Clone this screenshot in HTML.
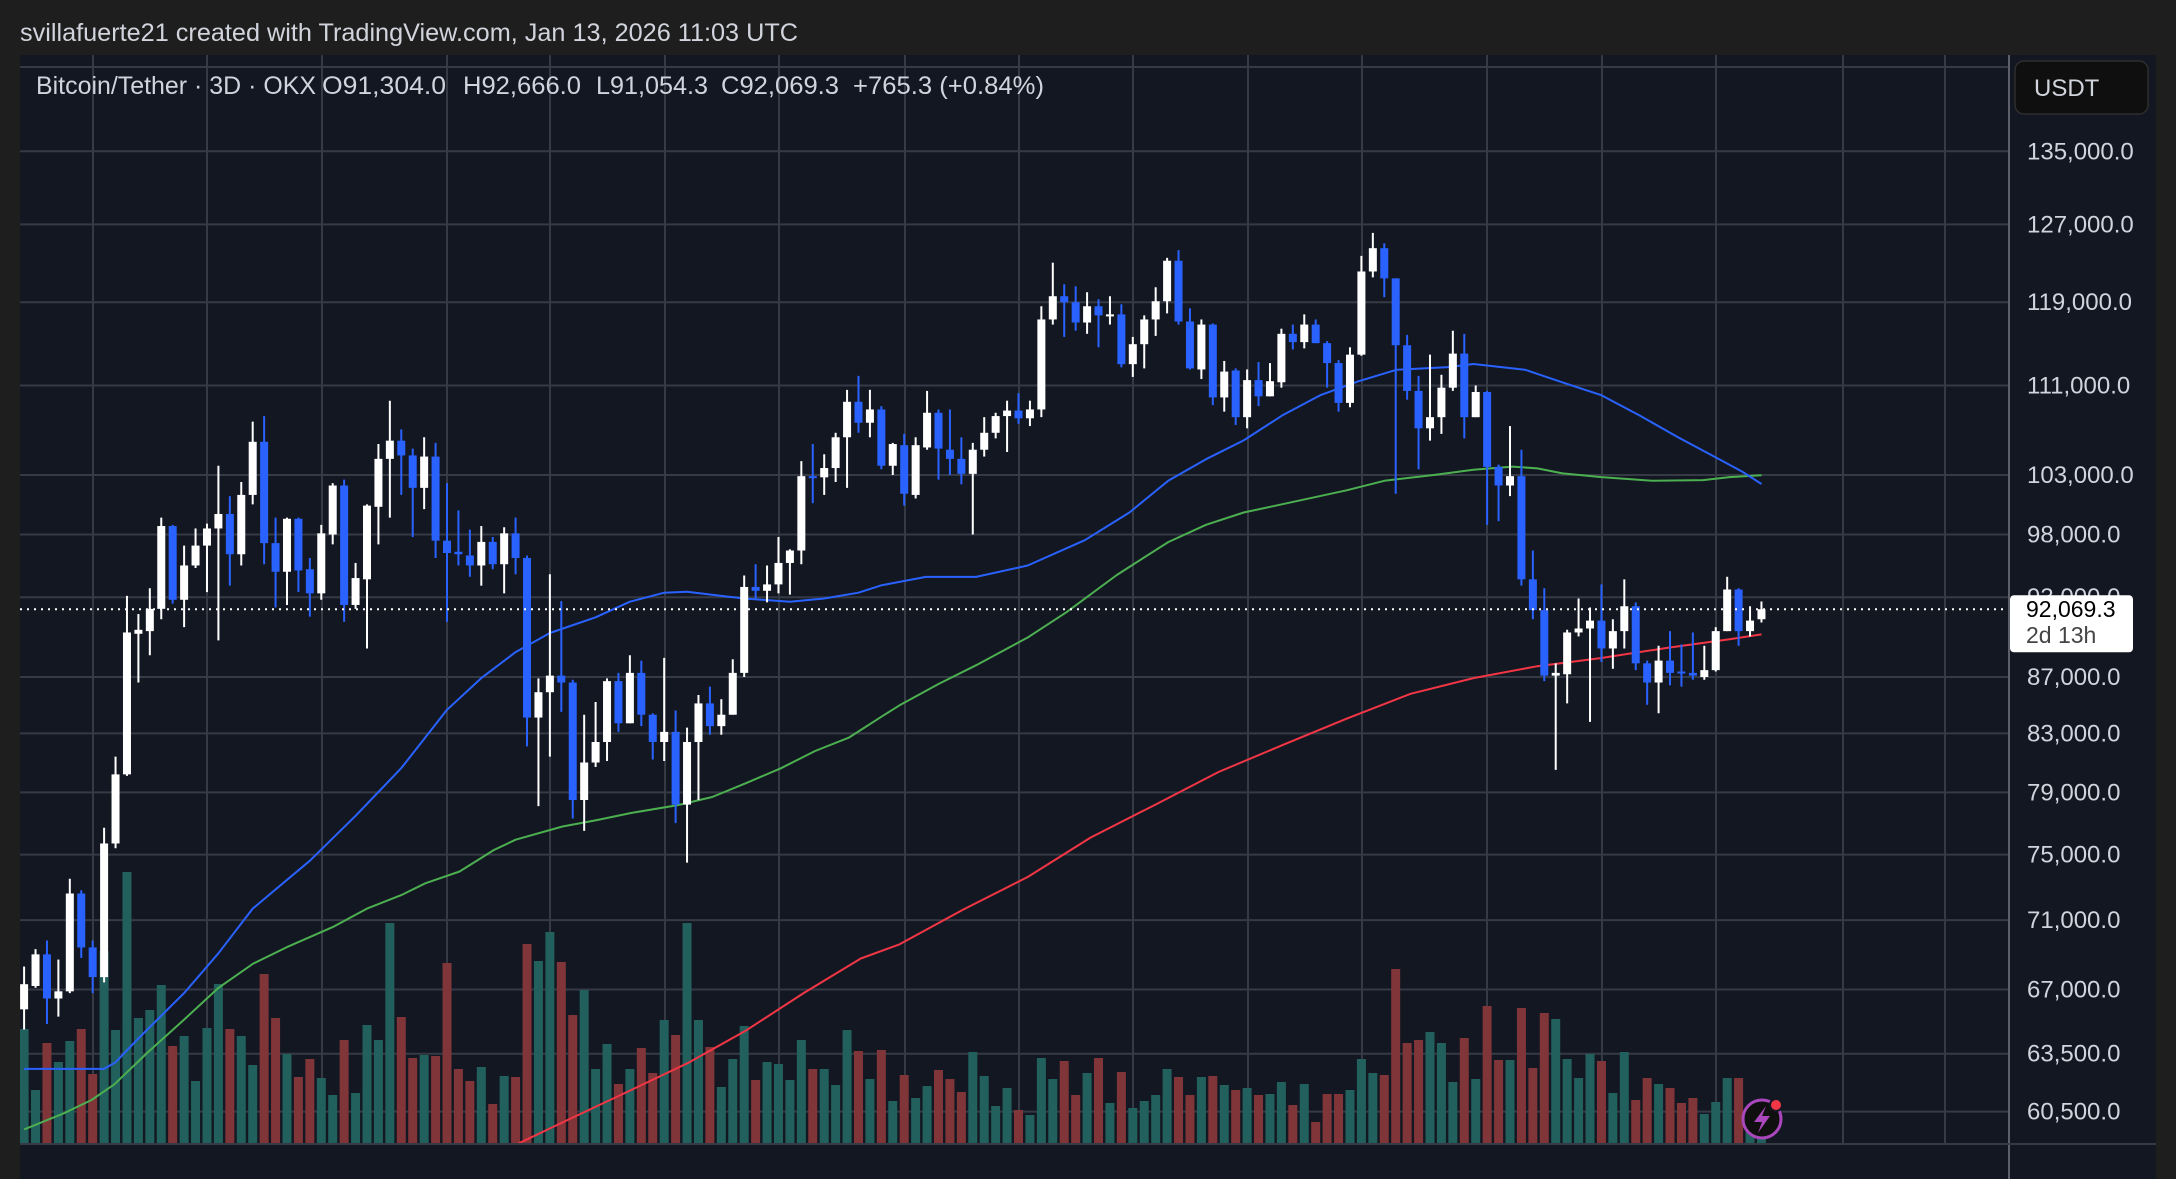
<!DOCTYPE html>
<html><head><meta charset="utf-8">
<style>
html,body{margin:0;padding:0;background:#1e1e1e;}
body{width:2176px;height:1179px;overflow:hidden;position:relative;font-family:"Liberation Sans",sans-serif;}
svg{position:absolute;left:0;top:0;}
</style></head>
<body>
<svg id="chart" width="2176" height="1179" viewBox="0 0 2176 1179" xmlns="http://www.w3.org/2000/svg">
  <rect x="0" y="0" width="2176" height="1179" fill="#1e1e1e"/>
  <text x="20" y="41" font-size="25" fill="#d1d4dc" font-family="Liberation Sans, sans-serif" textLength="778" lengthAdjust="spacingAndGlyphs">svillafuerte21 created with TradingView.com, Jan 13, 2026 11:03 UTC</text>
  <rect x="20" y="55" width="2136" height="1124" fill="#131722"/>
  <g id="grid"></g>
  <g id="vol" clip-path="url(#plotclip)"></g>
  <g id="mas" clip-path="url(#plotclip)"></g>
  <g id="candles" clip-path="url(#plotclip)"></g>
  <defs><clipPath id="plotclip"><rect x="20" y="55" width="1989" height="1089"/></clipPath></defs>
  <line id="lastline" x1="20" x2="2009" y1="0" y2="0" stroke="#ffffff" stroke-width="2" stroke-dasharray="2 5"/>
  <line x1="2009" y1="55" x2="2009" y2="1179" stroke="#5d606b" stroke-width="2"/>
  <line x1="20" y1="1144" x2="2156" y2="1144" stroke="#363a45" stroke-width="2"/>
  <g id="axis"></g>
  <g>
    <rect x="2015" y="61" width="133" height="53" rx="9" fill="#0f0f0f" stroke="#2e2e2e" stroke-width="1.5"/>
    <text x="2034" y="96" font-size="24" fill="#d1d4dc" font-family="Liberation Sans, sans-serif">USDT</text>
  </g>
  <g>
    <rect id="lastbox" x="2010" y="595" width="123" height="57" rx="4" fill="#ffffff"/>
    <text id="lasttxt" x="2026" y="617" font-size="23" fill="#000" font-family="Liberation Sans, sans-serif">92,069.3</text>
    <text id="cdtxt" x="2026" y="643" font-size="23" fill="#444" font-family="Liberation Sans, sans-serif">2d 13h</text>
  </g>
  <g font-size="25" fill="#d1d4dc" font-family="Liberation Sans, sans-serif">
    <text x="36" y="94" textLength="280" lengthAdjust="spacingAndGlyphs">Bitcoin/Tether · 3D · OKX</text>
    <text x="322" y="94" textLength="124" lengthAdjust="spacingAndGlyphs">O91,304.0</text>
    <text x="463" y="94" textLength="118" lengthAdjust="spacingAndGlyphs">H92,666.0</text>
    <text x="596" y="94" textLength="112" lengthAdjust="spacingAndGlyphs">L91,054.3</text>
    <text x="721" y="94" textLength="118" lengthAdjust="spacingAndGlyphs">C92,069.3</text>
    <text x="853" y="94" textLength="191" lengthAdjust="spacingAndGlyphs">+765.3 (+0.84%)</text>
  </g>
  <g>
    <circle cx="1762" cy="1119" r="19" fill="#0f0f0f" stroke="#ab47bc" stroke-width="3"/>
    <path d="M1766 1106 L1754 1122 L1762 1122 L1758 1133 L1770 1116 L1762 1116 Z" fill="#ab47bc"/>
    <circle cx="1776" cy="1105" r="6" fill="#f23645" stroke="#131722" stroke-width="2"/>
  </g>
  <rect x="2156" y="0" width="20" height="1179" fill="#1e1e1e"/>
</svg>
<script>
const opens=[65900,67200,69000,66500,66900,72600,69400,67700,75700,80200,90200,90400,92100,98700,92800,95500,97100,98500,99700,96400,101300,105900,97300,95000,99300,95200,93300,98000,102100,92400,94400,100300,104400,106000,104700,101900,104600,97500,96600,96300,95500,97400,95600,98100,96100,84100,85900,87100,86600,78500,81000,82400,86700,83700,87300,84300,82400,83100,78200,82400,85100,83500,84300,87300,93800,93500,94000,95700,96700,102900,102800,103600,106300,109500,107600,108800,103800,105600,101300,105400,108500,105200,104400,103100,105200,106700,108200,108700,108000,108800,117300,119600,119000,117000,118600,117600,117800,113000,114900,117300,119100,123200,117100,112500,116800,109900,112400,108100,111500,110000,111300,115900,115100,116800,115000,113100,109400,113900,122100,124500,121400,114800,110500,107100,108100,110800,114000,108100,110400,103700,102100,102900,94400,92000,87100,87200,90300,90600,91200,89100,90400,92300,88000,86600,88200,87400,87300,87000,87500,90400,93600,90400,91304];
const highs=[68300,69300,69800,68700,73500,72800,69800,76700,81400,93100,91700,93700,99400,98800,97100,98500,98900,103800,101200,102400,107700,108200,99400,99400,99400,96100,98800,102300,102600,95700,100500,105700,109600,107000,105300,106300,105800,102300,100000,98400,98700,97800,98600,99400,96300,86900,94800,92700,86800,84300,85200,86900,87300,88600,88200,84400,88400,84600,83400,85700,86300,85400,88300,94700,95600,95500,97800,96800,104200,105700,104800,106700,110600,111900,110600,109100,105800,106600,106300,110500,108800,108800,106300,105800,108100,108500,109600,110300,109600,118600,123000,120800,120600,120000,119300,119600,118800,115600,117700,120500,123500,124300,118400,117300,116900,113300,112600,112500,113200,113100,116400,116800,117800,117300,115200,113400,114600,123700,126100,125000,121400,115800,111900,113900,112000,116200,115900,111000,110500,103900,107300,105200,96700,93700,88000,90500,92900,92200,94000,91300,94400,92600,88200,89300,90400,89400,90300,89300,90700,94600,93700,92300,92666];
const lows=[64800,67100,65100,65500,66800,68800,66800,67400,75400,80100,86600,88600,91300,92500,90700,95300,93400,89700,93900,95500,100500,95600,92200,92400,93400,91500,92800,97200,91100,92100,89100,97200,99400,101300,97800,100100,96100,91100,95500,94600,93900,95200,93300,94800,82100,78100,81400,84500,77300,76500,80700,81100,83100,83700,83500,81200,81100,77000,74500,78500,82900,82900,84300,87000,92800,92600,93300,93200,95600,100600,101300,102400,101900,106700,106300,103500,103000,100400,101000,105200,102600,103000,102200,98000,104600,106200,105000,107500,107300,108100,116800,115600,116200,115900,114600,116800,112700,111800,112600,115700,117900,116800,112500,111600,109200,108600,107400,107100,109100,110000,110800,114400,114500,115000,110800,108600,109000,113800,121500,119500,101400,109700,103500,106000,106600,110500,106200,108100,98800,99100,101200,93900,91300,86700,80500,85100,90000,83800,88100,87600,89100,87500,85000,84400,86400,86300,86800,86800,87400,90400,89300,90000,91054];
const closes=[67300,69000,66500,66900,72600,69400,67700,75700,80200,90300,90500,92100,98700,92800,95500,97100,98500,99700,96400,101300,105900,97300,95000,99300,95100,93300,98100,102100,92400,94500,100400,104400,106000,104700,101900,104600,97500,96500,96400,95500,97400,95600,98100,96100,84100,85900,87100,86600,78500,81000,82400,86700,83700,87300,84300,82400,83100,78200,82400,85100,83500,84300,87300,93800,93500,94000,95700,96700,102900,102800,103600,106300,109500,107600,108800,103800,105700,101400,105600,108500,105300,104400,103100,105200,106700,108200,108700,108000,108800,117300,119600,119000,117000,118600,117700,117800,113000,114900,117300,119100,123200,117100,112600,116800,109900,112300,108100,111500,110000,111400,115900,115100,116800,115000,113100,109400,113900,122100,124500,121400,114800,110500,107100,108100,110800,114000,108100,110400,103700,102100,102900,94400,92000,87100,87300,90300,90600,91200,89100,90400,92300,88000,86600,88200,87300,87300,87100,87500,90400,93600,90400,91200,92069.3];
const volumes=[115,54,101,82,103,115,70,193,114,272,126,134,159,98,108,63,116,160,115,108,79,170,126,90,67,85,66,49,104,51,119,104,221,127,86,89,88,181,75,63,77,40,68,67,200,183,212,182,129,154,75,100,60,75,96,71,124,109,221,124,97,57,85,118,64,82,80,64,104,75,75,59,114,93,65,94,43,69,46,58,74,65,52,92,68,38,56,34,29,86,65,83,49,71,86,41,72,36,43,49,75,67,49,67,68,59,54,56,49,50,62,39,60,22,50,50,54,85,71,69,175,101,104,112,101,62,106,65,138,84,84,136,76,131,125,85,66,90,83,51,92,44,66,60,56,41,46,30,42,66,66,20,10];
const priceTicks=[135000,127000,119000,111000,103000,98000,93000,87000,83000,79000,75000,71000,67000,63500,60500];
const maBlueIdx=[0,7,8,10,14,17,20,25,29,33,37,40,43,46,50,53,56,58,61,63,67,70,73,75,78.9,83.3,87.8,92.8,96.7,100.1,103.4,106.7,110.1,113.4,116.8,120.1,124.6,126.8,131.3,134.6,138,141.3,144.7,148,150.3,152];
const maBlueVal=[62700,62700,63050,64320,66800,69060,71690,74620,77470,80620,84650,86920,88830,90260,91450,92650,93350,93430,93100,92900,92650,92900,93350,93930,94590,94590,95500,97540,99820,102500,104370,106020,108270,110100,111410,112480,112720,113010,112480,111290,110100,108270,106310,104530,103300,102230];
const maGreenIdx=[0,3.5,5.9,7.9,10.9,14,17,20,23,27,30,33,35.1,38.1,41.1,43,47.1,50.1,53.1,57.2,60.2,63.2,66.2,69.2,72.2,75.2,76.6,80,83.3,87.8,91.2,95.6,100.1,103.4,106.7,110.1,115.7,119,123.5,126.8,130.2,132.4,134.6,138,142.5,146.9,149.2,152];
const maGreenVal=[59610,60420,61090,61900,63620,65340,67090,68450,69420,70590,71690,72500,73220,73950,75290,75940,76780,77190,77650,78170,78700,79630,80610,81780,82720,84260,84970,86490,87860,89920,91840,94740,97380,98800,99820,100520,101690,102500,103030,103460,103730,103570,103140,102820,102500,102560,102820,102980];
const maRedIdx=[43.1,48.1,53.1,58.2,63.2,68.2,73.2,76.6,82.2,87.8,93.3,98.9,104.5,110.1,115.7,121.3,126.8,132.4,138,143.6,149.2,152];
const maRedVal=[58870,60230,61600,63050,64760,66800,68760,69580,71640,73610,76070,78170,80360,82190,84020,85790,86920,87790,88390,89130,89790,90150];

const NS='http://www.w3.org/2000/svg';
const X0=24.1, STEP=11.43, VOLBASE=1144;
function xOf(i){return X0+i*STEP;}
function yOf(p){return 151.3+(Math.log(135000)-Math.log(p))*1196.5;}
function vOf(v){return VOLBASE-v*1.0;}
function mk(tag,attrs,parent){const e=document.createElementNS(NS,tag);for(const k in attrs)e.setAttribute(k,attrs[k]);parent.appendChild(e);return e;}
function fmt(p){return p.toLocaleString('en-US',{minimumFractionDigits:1,maximumFractionDigits:1});}

const grid=document.getElementById('grid');
const vxs=[93,207,322,447,550,665,779,905,1019,1133,1248,1362,1487,1602,1716,1843,1945];
vxs.forEach(x=>{
  const l=mk('line',{x1:x,x2:x,y1:55,y2:1144,stroke:'#363a45','stroke-width':2},grid);
  
  
});
const hl=mk('line',{x1:20,x2:2009,y1:67,y2:67,stroke:'#363a45','stroke-width':2},grid);


const axis=document.getElementById('axis');
priceTicks.forEach(p=>{
  const y=yOf(p);
  const l=mk('line',{x1:20,x2:2009,y1:y,y2:y,stroke:'#363a45','stroke-width':2},grid);
  
  
  const t=mk('text',{x:2027,y:y+8,'font-size':24,fill:'#d1d4dc','font-family':'Liberation Sans, sans-serif'},axis);
  t.textContent=fmt(p);
  
  
});

const vol=document.getElementById('vol');
volumes.forEach((v,i)=>{
  const up=closes[i]>=opens[i];
  const r=mk('rect',{x:xOf(i)-4.5,y:vOf(v),width:9,height:v,fill:up?'#22605d':'#803539'},vol);
  
  
});

const mas=document.getElementById('mas');
function drawMA(idx,val,color,name){
  const d=idx.map((ix,k)=>(k?'L':'M')+xOf(ix).toFixed(1)+' '+yOf(val[k]).toFixed(1)).join(' ');
  const p=mk('path',{d:d,fill:'none',stroke:color,'stroke-width':2,'stroke-linejoin':'round'},mas);
  
  
}
drawMA(maRedIdx,maRedVal,'#f23645','ma-red-line');
drawMA(maGreenIdx,maGreenVal,'#4caf50','ma-green-line');
drawMA(maBlueIdx,maBlueVal,'#2962ff','ma-blue-line');

const cg=document.getElementById('candles');
opens.forEach((o,i)=>{
  const c=closes[i],up=c>=o,col=up?'#ffffff':'#2962ff',x=xOf(i);
  const g=mk('g',{},cg);
  
  
  mk('line',{x1:x,x2:x,y1:yOf(highs[i]),y2:yOf(lows[i]),stroke:col,'stroke-width':2},g);
  const top=yOf(Math.max(o,c)),bot=yOf(Math.min(o,c));
  mk('rect',{x:x-4,y:top,width:8,height:Math.max(2,bot-top),fill:col},g);
});

const last=closes[closes.length-1];
const ly=yOf(last);
const ll=document.getElementById('lastline');
ll.setAttribute('y1',ly);ll.setAttribute('y2',ly);
document.getElementById('lastbox').setAttribute('y',ly-14);
document.getElementById('lasttxt').setAttribute('y',ly+8);
document.getElementById('cdtxt').setAttribute('y',ly+34);
document.getElementById('lasttxt').textContent=fmt(last);
</script>
</body></html>
